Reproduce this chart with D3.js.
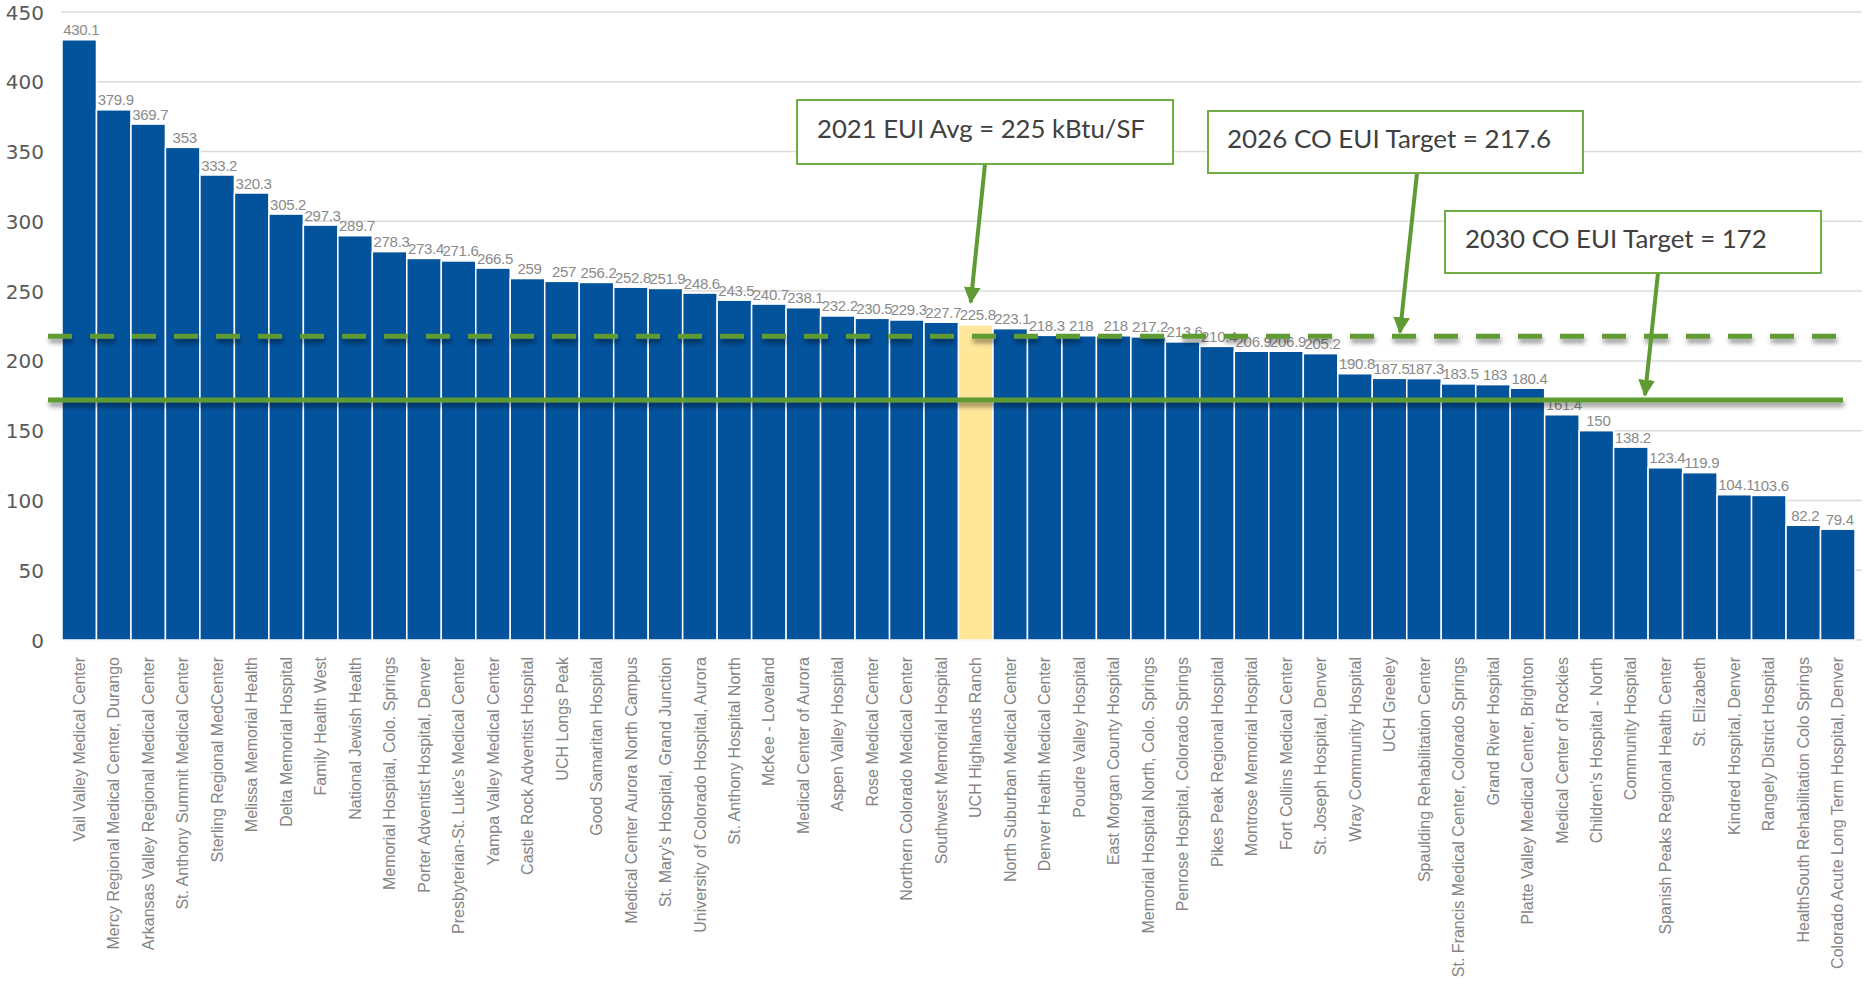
<!DOCTYPE html>
<html><head><meta charset="utf-8">
<script src="https://cdn.jsdelivr.net/npm/d3@7"></script>
<style>html,body{margin:0;padding:0;background:#fff;overflow:hidden}</style>
</head><body>
<svg id="chart" width="1865" height="984"></svg>
<script>
const categories = ["Vail Valley Medical Center","Mercy Regional Medical Center, Durango","Arkansas Valley Regional Medical Center","St. Anthony Summit Medical Center","Sterling Regional MedCenter","Melissa Memorial Health","Delta Memorial Hospital","Family Health West","National Jewish Health","Memorial Hospital, Colo. Springs","Porter Adventist Hospital, Denver","Presbyterian-St. Luke's Medical Center","Yampa Valley Medical Center","Castle Rock Adventist Hospital","UCH Longs Peak","Good Samaritan Hospital","Medical Center Aurora North Campus","St. Mary's Hospital, Grand Junction","University of Colorado Hospital, Aurora","St. Anthony Hospital North","McKee - Loveland","Medical Center of Aurora","Aspen Valley Hospital","Rose Medical Center","Northern Colorado Medical Center","Southwest Memorial Hospital","UCH Highlands Ranch","North Suburban Medical Center","Denver Health Medical Center","Poudre Valley Hospital","East Morgan County Hospital","Memorial Hospital North, Colo. Springs","Penrose Hospital, Colorado Springs","Pikes Peak Regional Hospital","Montrose Memorial Hospital","Fort Collins Medical Center","St. Joseph Hospital, Denver","Wray Community Hospital","UCH Greeley","Spaulding Rehabilitation Center","St. Francis Medical Center, Colorado Springs","Grand River Hospital","Platte Valley Medical Center, Brighton","Medical Center of Rockies","Children's Hospital - North","Community Hospital","Spanish Peaks Regional Health Center","St. Elizabeth","Kindred Hospital, Denver","Rangely District Hospital","HealthSouth Rehabilitation Colo Springs","Colorado Acute Long Term Hospital, Denver"];
const values = [430.1,379.9,369.7,353,333.2,320.3,305.2,297.3,289.7,278.3,273.4,271.6,266.5,259,257,256.2,252.8,251.9,248.6,243.5,240.7,238.1,232.2,230.5,229.3,227.7,225.8,223.1,218.3,218,218,217.2,213.6,210.4,206.9,206.9,205.2,190.8,187.5,187.3,183.5,183,180.4,161.4,150,138.2,123.4,119.9,104.1,103.6,82.2,79.4];
const highlighted = ["UCH Highlands Ranch"];
const yTicks = [0,50,100,150,200,250,300,350,400,450];
const target2026 = 217.6;
const target2030 = 172;
const avg2021Label = "2021 EUI Avg = 225 kBtu/SF";
const target2026Label = "2026 CO EUI Target = 217.6";
const target2030Label = "2030 CO EUI Target = 172";

const svg = d3.select("#chart");
const x = d3.scaleBand().domain(categories).range([62, 1855]).padding(0);
const y = d3.scaleLinear().domain([0, 450]).range([640, 12]);

const defs = svg.append("defs");
const f = defs.append("filter").attr("id","shadow").attr("filterUnits","userSpaceOnUse")
  .attr("x",0).attr("y",0).attr("width",1865).attr("height",984);
f.append("feDropShadow").attr("dx",1).attr("dy",4).attr("stdDeviation",2.5).attr("flood-color","#000").attr("flood-opacity",0.45);
defs.append("marker").attr("id","arrow").attr("viewBox","0 0 10 10").attr("refX",9).attr("refY",5)
  .attr("markerWidth",4.2).attr("markerHeight",4.2).attr("markerUnits","strokeWidth").attr("orient","auto")
  .append("path").attr("d","M0,0 L10,5 L0,10 Z").attr("fill","#5f9b33");

// gridlines
svg.append("g").selectAll("line").data(yTicks).join("line")
  .attr("x1",61).attr("x2",1862).attr("y1",d=>y(d)).attr("y2",d=>y(d))
  .attr("stroke","#dcdcdc").attr("stroke-width",1.5);

// y labels
svg.append("g").selectAll("text").data(yTicks).join("text")
  .attr("x",44).attr("y",d=>y(d)+7.5).attr("text-anchor","end")
  .attr("font-family","'DejaVu Sans', sans-serif").attr("font-size",20).attr("fill","#595959")
  .text(d=>d);

// bars
svg.append("g").selectAll("rect").data(categories).join("rect")
  .attr("x",d=>x(d)).attr("width",x.bandwidth())
  .attr("y",(d,i)=>y(values[i])).attr("height",(d,i)=>y(0)-y(values[i]))
  .attr("fill",d=>highlighted.includes(d)?"#ffe699":"#02529c")
  .attr("stroke","#fff").attr("stroke-width",1.5);

// value labels
svg.append("g").selectAll("text").data(categories).join("text")
  .attr("x",d=>x(d)+x.bandwidth()/2+2).attr("y",(d,i)=>y(values[i])-4.5)
  .attr("text-anchor","middle").attr("font-family","'Liberation Sans', Arial, sans-serif")
  .attr("font-size",15).attr("fill","#8a8a8a").attr("letter-spacing","-0.3")
  .text((d,i)=>values[i]);

// x labels
svg.append("g").selectAll("text").data(categories).join("text")
  .attr("transform",d=>`translate(${x(d)+x.bandwidth()/2},657) rotate(-90)`)
  .attr("dy","0.35em").attr("text-anchor","end")
  .attr("font-family","'Liberation Sans', Arial, sans-serif").attr("font-size",16).attr("fill","#858585")
  .text(d=>d);

// reference lines
const lineX0 = 48, lineX1 = 1843;
svg.append("line").attr("x1",lineX0).attr("x2",lineX1).attr("y1",y(target2026)).attr("y2",y(target2026))
  .attr("stroke","#5e9a31").attr("stroke-width",5).attr("stroke-dasharray","24 18").attr("filter","url(#shadow)");
svg.append("line").attr("x1",lineX0).attr("x2",lineX1).attr("y1",y(target2030)).attr("y2",y(target2030))
  .attr("stroke","#5e9a31").attr("stroke-width",5).attr("filter","url(#shadow)");

// annotations
const notes = [
  {text: avg2021Label, box:[797,100,376,64], tx:817, ty:138, tw:328, from:[985,164], to:[x("UCH Highlands Ranch")+x.bandwidth()/2-5, y(242)]},
  {text: target2026Label, box:[1208,111,375,62], tx:1227, ty:148, tw:324, from:[1417,173], to:[1400, y(target2026)-4]},
  {text: target2030Label, box:[1445,211,376,62], tx:1465, ty:248, tw:302, from:[1658,273], to:[1645, y(target2030)-5]}
];
notes.forEach(n=>{
  svg.append("line").attr("x1",n.from[0]).attr("y1",n.from[1]).attr("x2",n.to[0]).attr("y2",n.to[1])
    .attr("stroke","#5f9b33").attr("stroke-width",4).attr("marker-end","url(#arrow)");
  svg.append("rect").attr("x",n.box[0]).attr("y",n.box[1]).attr("width",n.box[2]).attr("height",n.box[3])
    .attr("fill","#fff").attr("stroke","#70ad47").attr("stroke-width",2);
  const t = svg.append("text").attr("x",n.tx).attr("y",n.ty)
    .attr("font-family","Lato, 'Open Sans', sans-serif").attr("font-size",100).attr("fill","#404040").text(n.text);
  const w = t.node().getComputedTextLength();
  t.attr("font-size", 100*n.tw/w);
});
</script>
</body></html>
